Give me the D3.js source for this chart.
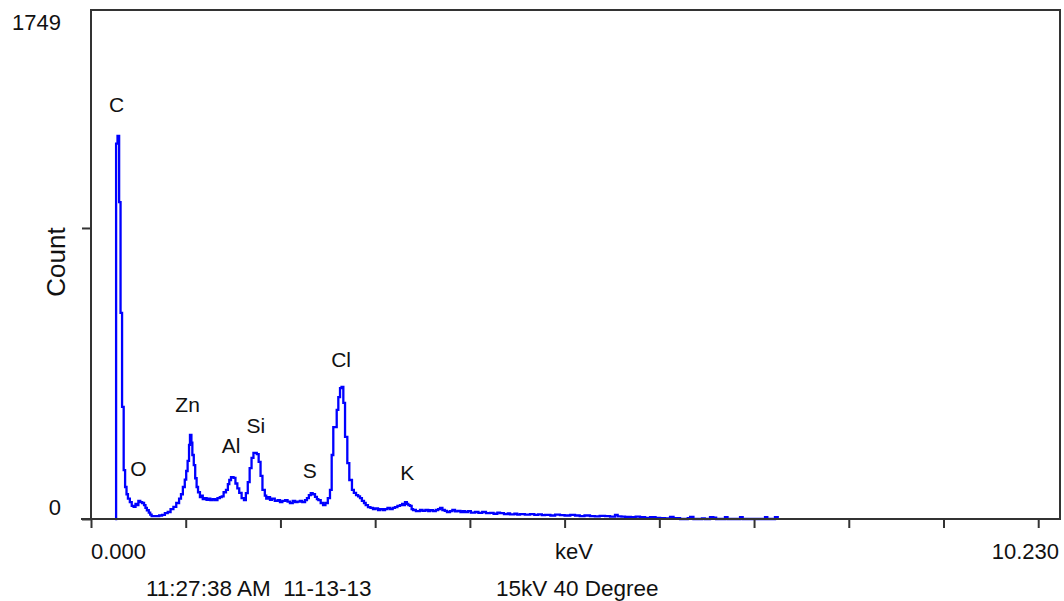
<!DOCTYPE html>
<html>
<head>
<meta charset="utf-8">
<script src="https://cdn.jsdelivr.net/npm/d3@7"></script>
<style>
  html, body { margin: 0; padding: 0; background: #ffffff; }
  svg { display: block; }
  text { font-family: "Liberation Sans", Arial, sans-serif; fill: #111; }
</style>
</head>
<body>
<svg id="chart" width="1064" height="601"></svg>
<script>
// ---- data ----
const energy = [
  0.255,0.265,0.280,0.297,0.312,0.328,0.345,0.360,0.375,0.390,0.410,0.430,0.450,0.470,0.490,0.500,0.520,0.540,0.560,0.575,
  0.590,0.610,0.625,0.640,0.680,0.720,0.750,0.780,0.810,0.840,0.870,0.900,0.930,0.950,0.970,0.990,1.005,1.020,1.035,1.045,
  1.060,1.070,1.085,1.100,1.115,1.130,1.150,1.165,1.180,1.200,1.220,1.240,1.260,1.285,1.310,1.335,1.360,1.380,1.400,1.425,
  1.445,1.460,1.478,1.505,1.525,1.545,1.565,1.590,1.615,1.635,1.655,1.675,1.695,1.715,1.750,1.770,1.790,1.810,1.835,1.850,
  1.870,1.890,1.910,1.940,1.970,1.995,2.020,2.050,2.075,2.100,2.130,2.155,2.180,2.205,2.230,2.260,2.280,2.300,2.320,2.340,
  2.365,2.385,2.400,2.425,2.450,2.475,2.500,2.523,2.541,2.558,2.594,2.611,2.629,2.645,2.664,2.682,2.706,2.727,2.755,2.775,
  2.798,2.820,2.840,2.860,2.882,2.900,2.924,2.950,2.977,3.000,3.030,3.051,3.080,3.104,3.130,3.157,3.185,3.209,3.235,3.262,
  3.285,3.300,3.315,3.335,3.350,3.368,3.385,3.400,3.430,3.473,3.500,3.530,3.560,3.579,3.610,3.640,3.665,3.685,3.710,3.735,
  3.758,3.790,3.815,3.843,3.870,3.900,3.925,3.949,3.980,4.010,4.054,4.090,4.130,4.170,4.212,4.250,4.290,4.318,4.360,4.400,
  4.424,4.470,4.500,4.529,4.580,4.635,4.680,4.720,4.760,4.793,4.850,4.900,4.951,5.000,5.060,5.110,5.160,5.210,5.268,5.320,
  5.370,5.427,5.480,5.532,5.560,5.600,5.638,5.700,5.750,5.796,5.850,5.902,5.960,6.008,6.060,6.113,6.150,6.219,6.300,6.325,
  6.360,6.450,6.480,6.535,6.570,6.600,6.693,6.720,6.852,6.880,7.116,7.140,7.221,7.250
];
const counts = [
  0,1290,1316,1089,708,385,168,110,85,70,58,45,42,52,48,62,58,55,48,38,
  30,22,15,10,10,12,14,20,24,34,42,55,70,85,110,135,165,200,255,289,
  262,220,185,140,110,92,75,80,68,72,66,70,65,68,65,72,75,78,92,100,
  120,134,144,141,122,105,90,72,65,89,127,175,210,227,223,196,148,100,80,70,
  75,66,70,62,65,58,62,65,60,55,62,58,60,62,58,65,72,82,89,85,
  76,68,65,55,48,55,72,100,220,316,375,419,450,454,399,282,192,134,100,90,
  82,78,72,62,55,48,41,38,34,36,31,34,31,34,38,34,38,41,45,48,
  52,48,58,52,48,45,34,31,27,31,28,31,27,30,27,31,34,38,31,28,
  24,27,31,26,28,24,27,24,27,22,24,21,24,20,21,18,22,20,17,19,
  16,18,15,17,15,17,14,16,13,14,12,15,13,12,14,12,10,12,10,9,
  11,10,8,14,9,8,7,6,8,6,4,6,4,3,2,7,3,0,3,7,
  0,2,0,6,5,0,6,0,6,0,6,0,6,0
];
const xTicks = [0,1,2,3,4,5,6,7,8,9,10];
const yTicks = [0,1000];
const xDomain = [0, 10.23];
const yDomain = [0, 1749];
const xEndLabels = ["0.000", "10.230"];
const yEndLabels = ["0", "1749"];
const peakNames  = ["C", "O", "Zn", "Al", "Si", "S", "Cl", "K"];
const peakEnergy = [0.27, 0.50, 1.02, 1.48, 1.74, 2.31, 2.64, 3.34];
const peakCount  = [1398, 148, 368, 227, 295, 141, 522, 134];
const xTitle = "keV";
const yTitle = "Count";
const footLeft = "11:27:38 AM  11-13-13";
const footRight = "15kV 40 Degree";

// ---- layout ----
const L = 91, R = 1060, T = 10, B = 519;
const svg = d3.select("#chart");
const x = d3.scaleLinear().domain(xDomain).range([L, R]);
const y = d3.scaleLinear().domain(yDomain).range([B, T]);

const pts = energy.map((e, i) => [e, counts[i]]);

// spectrum
svg.append("path")
  .datum(pts)
  .attr("fill", "none")
  .attr("stroke", "#0000ff")
  .attr("stroke-width", 2.3)
  .attr("d", d3.line().x(d => x(d[0])).y(d => y(d[1])).curve(d3.curveStepAfter));

// frame (top/right)
svg.append("path")
  .attr("d", `M${L},${T}H${R}V${B}`)
  .attr("fill", "none")
  .attr("stroke", "#333")
  .attr("stroke-width", 2);

// axes
const xAxis = svg.append("g").attr("transform", `translate(0,${B})`)
  .call(d3.axisBottom(x).tickValues(xTicks).tickSize(9).tickSizeOuter(0).tickFormat(""));
const yAxis = svg.append("g").attr("transform", `translate(${L},0)`)
  .call(d3.axisLeft(y).tickValues(yTicks).tickSize(9).tickSizeOuter(0).tickFormat(""));
[xAxis, yAxis].forEach(g => {
  g.select(".domain").attr("stroke", "#333").attr("stroke-width", 2);
  g.selectAll(".tick line").attr("stroke", "#333").attr("stroke-width", 2);
});
xAxis.select(".domain").attr("d", `M${L - 10},0H${R + 1}`);
yAxis.select(".domain").attr("d", `M0,${B + 1}V${T - 1}`);

// axis end labels
svg.append("text").attr("x", L).attr("y", 559).attr("font-size", 22).text(xEndLabels[0]);
svg.append("text").attr("x", R - 1).attr("y", 559).attr("font-size", 22).attr("text-anchor", "end").text(xEndLabels[1]);
svg.append("text").attr("x", 574).attr("y", 559).attr("font-size", 22).attr("text-anchor", "middle").text(xTitle);
svg.append("text").attr("x", 61).attr("y", 515).attr("font-size", 22).attr("text-anchor", "end").text(yEndLabels[0]);
svg.append("text").attr("x", 61).attr("y", 30).attr("font-size", 22).attr("text-anchor", "end").text(yEndLabels[1]);
svg.append("text").attr("transform", "translate(65,262) rotate(-90)").attr("font-size", 26)
  .attr("text-anchor", "middle").text(yTitle);

// footer
svg.append("text").attr("x", 146).attr("y", 596).attr("font-size", 22.5).attr("xml:space", "preserve")
  .style("white-space", "pre").text(footLeft);
svg.append("text").attr("x", 496).attr("y", 596).attr("font-size", 22.5).text(footRight);

// peak labels
svg.append("g").selectAll("text")
  .data(peakNames)
  .join("text")
  .attr("x", (d, i) => x(peakEnergy[i]))
  .attr("y", (d, i) => y(peakCount[i]))
  .attr("text-anchor", "middle")
  .attr("font-size", 21)
  .text(d => d);
</script>
</body>
</html>
